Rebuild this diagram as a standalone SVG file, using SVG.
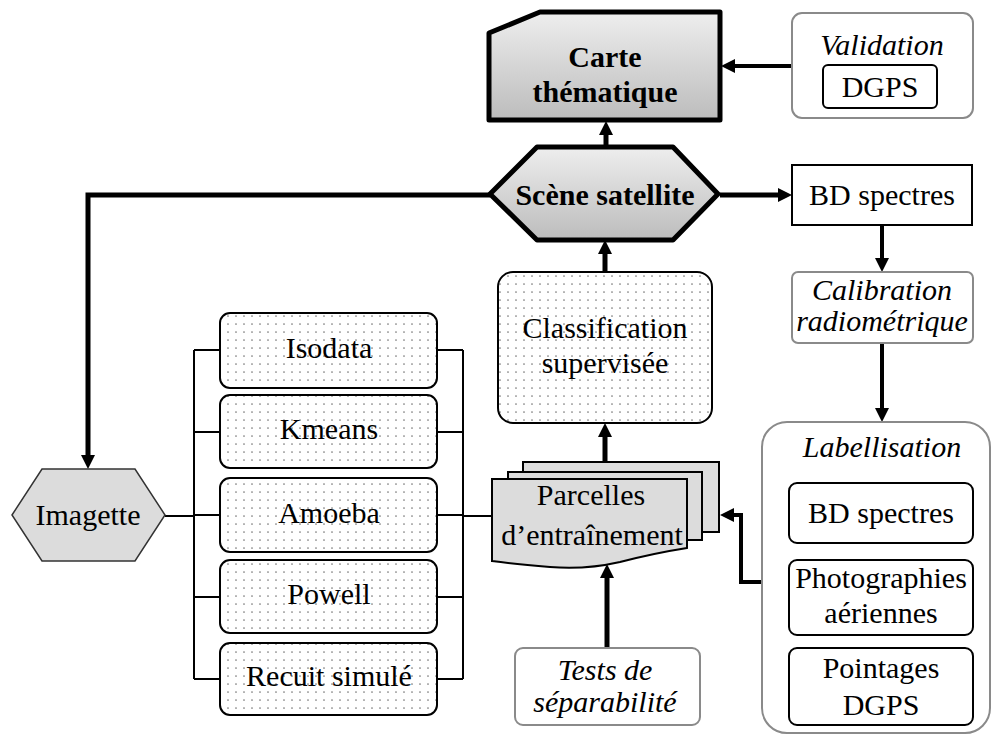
<svg xmlns="http://www.w3.org/2000/svg" width="993" height="735" viewBox="0 0 993 735">
<defs>
<linearGradient id="grad" x1="0" y1="0" x2="0" y2="1">
<stop offset="0" stop-color="#eeeeee"/>
<stop offset="1" stop-color="#bcbcbc"/>
</linearGradient>
<pattern id="dots" width="8" height="8" patternUnits="userSpaceOnUse">
<rect width="8" height="8" fill="#ffffff"/>
<circle cx="4" cy="4" r="0.85" fill="#777777"/>
</pattern>
<marker id="ah" viewBox="0 0 10 10" refX="0" refY="5" markerWidth="14" markerHeight="14" markerUnits="userSpaceOnUse" orient="auto">
<path d="M0,0 L10,5 L0,10 z" fill="#000"/>
</marker>
</defs>
<style>
text{font-family:"Liberation Serif","DejaVu Serif",serif;font-size:30px;fill:#000;text-anchor:middle}
.b{font-weight:bold}
.i{font-style:italic}
.thick{fill:none;stroke:#000;stroke-width:5}
.med{fill:none;stroke:#000;stroke-width:4}
.thin{fill:none;stroke:#000;stroke-width:2}
.dot{fill:url(#dots);stroke:#000;stroke-width:2}
.gbox{fill:#fff;stroke:#8a8a8a;stroke-width:2}
.bbox{fill:#fff;stroke:#000;stroke-width:2}
.sheet{fill:#dcdcdc;stroke:#000;stroke-width:2}
</style>

<g id="connectors">
<path class="med" d="M792,66 H735" marker-end="url(#ah)"/>
<path class="thick" d="M606,148 V135" marker-end="url(#ah)"/>
<path class="thick" d="M490,195 H88 V455" marker-end="url(#ah)"/>
<path class="thick" d="M720,195 H778" marker-end="url(#ah)"/>
<path class="med" d="M882,225 V258" marker-end="url(#ah)"/>
<path class="med" d="M882,343 V408" marker-end="url(#ah)"/>
<path class="thick" d="M605,272 V254" marker-end="url(#ah)"/>
<path class="thick" d="M605,462 V437" marker-end="url(#ah)"/>
<path class="thick" d="M607,648 V578" marker-end="url(#ah)"/>
<path class="med" d="M762,582 H741 V515 H734" marker-end="url(#ah)"/>
<path class="thin" d="M165,516 H194 M194,350 V679 M194,350 H220 M194,432 H220 M194,515 H220 M194,597 H220 M194,679 H220"/>
<path class="thin" d="M437,350 H463 M437,432 H463 M437,515 H463 M437,597 H463 M437,679 H463 M463,350 V679 M463,516 H492"/>
</g>

<g id="carte">
<polygon points="489,33 540,12 720,12 720,120 489,120" fill="url(#grad)" stroke="#000" stroke-width="5" stroke-linejoin="round"/>
<text class="b" x="605" y="67">Carte</text>
<text class="b" x="605" y="102">thématique</text>
</g>

<g id="validation">
<rect class="gbox" x="792" y="13" width="181" height="105" rx="10"/>
<text class="i" x="882" y="55">Validation</text>
<rect class="bbox" x="823" y="65" width="114" height="43" rx="5"/>
<text x="880" y="97">DGPS</text>
</g>

<g id="scene">
<polygon points="490,194 537,147 673,147 718,194 673,240 537,240" fill="url(#grad)" stroke="#000" stroke-width="5" stroke-linejoin="round"/>
<text class="b" x="605" y="205">Scène satellite</text>
</g>

<g id="bdspectres">
<rect class="bbox" x="792" y="165" width="180" height="60"/>
<text x="882" y="205">BD spectres</text>
</g>

<g id="calibration">
<rect class="gbox" x="792" y="272" width="181" height="71" rx="6"/>
<text class="i" x="882" y="300">Calibration</text>
<text class="i" x="882" y="331">radiométrique</text>
</g>

<g id="labellisation">
<rect class="gbox" x="762" y="422" width="228" height="311" rx="25"/>
<text class="i" x="882" y="457">Labellisation</text>
<rect class="bbox" x="789" y="483" width="184" height="60" rx="8"/>
<text x="881" y="523">BD spectres</text>
<rect class="bbox" x="789" y="560" width="184" height="75" rx="8"/>
<text x="881" y="588">Photographies</text>
<text x="881" y="623">aériennes</text>
<rect class="bbox" x="789" y="648" width="184" height="77" rx="8"/>
<text x="881" y="678">Pointages</text>
<text x="881" y="715">DGPS</text>
</g>

<g id="classification">
<rect class="dot" x="498" y="272" width="214" height="151" rx="15"/>
<text x="605" y="338">Classification</text>
<text x="605" y="373">supervisée</text>
</g>

<g id="parcelles">
<rect class="sheet" x="523" y="462" width="196" height="70"/>
<rect class="sheet" x="508" y="472" width="194" height="68"/>
<path class="sheet" d="M492,479 H687 V548 Q655,553 620,562 Q585,570 550,567 Q515,564 492,561 Z"/>
<text x="591" y="505">Parcelles</text>
<text x="592" y="545">d’entraînement</text>
</g>

<g id="tests">
<rect class="gbox" x="515" y="648" width="185" height="77" rx="8"/>
<text class="i" x="605" y="680">Tests de</text>
<text class="i" x="605" y="712">séparabilité</text>
</g>

<g id="imagette">
<polygon points="12,515 42,469 135,469 165,515 135,561 42,561" fill="#dcdcdc" stroke="#333" stroke-width="1.5"/>
<text x="88" y="525">Imagette</text>
</g>

<g id="isodata">
<rect class="dot" x="220" y="313" width="217" height="75" rx="10"/>
<text x="329" y="358">Isodata</text>
</g>
<g id="kmeans">
<rect class="dot" x="220" y="395" width="217" height="73" rx="10"/>
<text x="329" y="439">Kmeans</text>
</g>
<g id="amoeba">
<rect class="dot" x="220" y="478" width="217" height="74" rx="10"/>
<text x="329" y="523">Amoeba</text>
</g>
<g id="powell">
<rect class="dot" x="220" y="560" width="217" height="73" rx="10"/>
<text x="329" y="604">Powell</text>
</g>
<g id="recuit">
<rect class="dot" x="220" y="643" width="217" height="72" rx="10"/>
<text x="329" y="686">Recuit simulé</text>
</g>
</svg>
